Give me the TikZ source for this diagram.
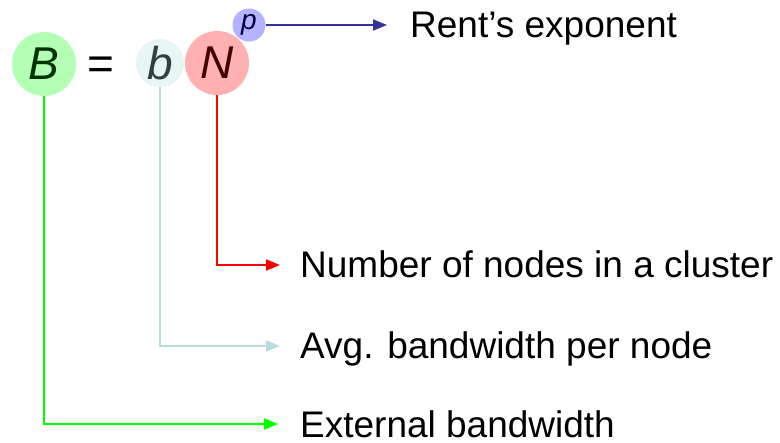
\documentclass[tikz,border=0pt]{standalone}
\usepackage{fontspec}
\setmainfont{Liberation Sans}
\usetikzlibrary{arrows.meta}
\definecolor{cBfill}{HTML}{B3FFB3}
\definecolor{cBtext}{HTML}{003300}
\definecolor{cbfill}{HTML}{E8F5F5}
\definecolor{cbtext}{HTML}{333F40}
\definecolor{cNfill}{HTML}{FFB0B0}
\definecolor{cNtext}{HTML}{400000}
\definecolor{cpfill}{HTML}{B3B3FF}
\definecolor{cptext}{HTML}{000040}
\definecolor{cpline}{HTML}{333399}
\definecolor{cbline}{HTML}{B8DDE0}
\definecolor{cBline}{HTML}{00FF00}
\definecolor{cNline}{HTML}{FF0000}
\tikzset{
  bub/.style={circle, inner sep=0pt, minimum size=#1},
  lbl/.style={anchor=base west, font=\fontsize{37}{40}\selectfont, inner sep=0pt},
  conn/.style={line width=2pt, -{Triangle[length=14pt,width=11pt]}},
  big/.style={font=\fontsize{46}{48}\selectfont\itshape}
}
\begin{document}
\begin{tikzpicture}[x=1pt,y=-1pt]
\useasboundingbox (0,0) rectangle (780,443);
\node[bub=64pt, fill=cBfill, text=cBtext, big] (B) at (44,64) {B};
\node[font=\fontsize{46}{48}\selectfont] (eq) at (101,68) {=};
\node[bub=48pt, fill=cbfill, text=cbtext, big] (b) at (160,63) {b};
\node[bub=64pt, fill=cNfill, text=cNtext, big] (N) at (217,63) {N};
\node[bub=33pt, fill=cpfill, text=cptext, font=\fontsize{28}{30}\selectfont\itshape] (p) at (249,25) {p};
\node[lbl] (tp) at (410,38) {Rent’s exponent};
\node[lbl] (tN) at (300,278) {Number of nodes in a cluster};
\node[lbl] (tb) at (300,359) {Avg. bandwidth per node};
\node[lbl] (tB) at (300,438) {External bandwidth};
\coordinate (ep) at (387,25);
\coordinate (eN) at (280,265);
\coordinate (eb) at (280,346);
\coordinate (eB) at (278,424);
\draw[conn, cpline] (p.east) -- (ep);
\draw[conn, cNline] (N.south) |- (eN);
\draw[conn, cbline] (b.south) |- (eb);
\draw[conn, cBline] (B.south) |- (eB);
\end{tikzpicture}
\end{document}
